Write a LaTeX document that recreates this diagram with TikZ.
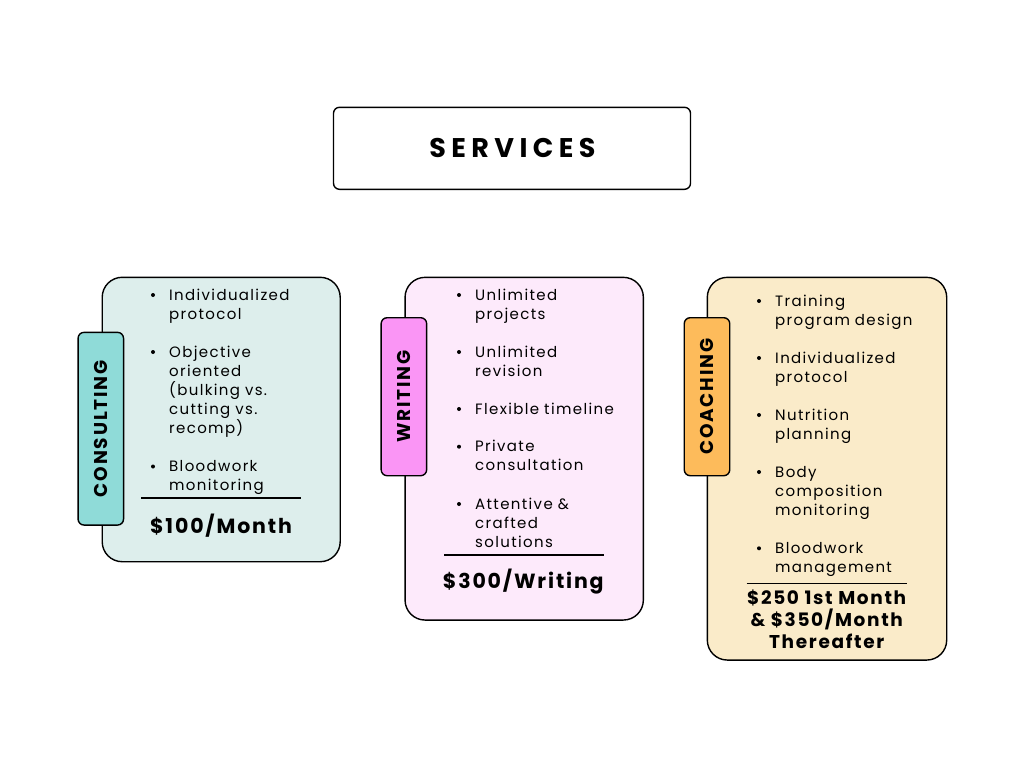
\documentclass[tikz,border=0pt]{standalone}
\usepackage{fontspec}
\setmainfont{Poppins}
\newfontfamily\itemfont[LetterSpace=9]{Poppins}
\newfontfamily\labelfont[LetterSpace=10]{Poppins}
\newfontfamily\titlefont[LetterSpace=20]{Poppins}
\newfontfamily\pricefont[LetterSpace=9]{Poppins}
\definecolor{consultFill}{HTML}{DDEEEC}
\definecolor{consultTab}{HTML}{8FDBD8}
\definecolor{writeFill}{HTML}{FDEAFB}
\definecolor{writeTab}{HTML}{FA95F5}
\definecolor{coachFill}{HTML}{FAEBC9}
\definecolor{coachTab}{HTML}{FDBB5B}
\begin{document}
\begin{tikzpicture}
[x=1pt,y=-1pt,
  cardDecorate/.style={draw=black,line width=1.4pt,rounded corners=20pt,inner sep=0pt},
  tabDecorate/.style={draw=black,line width=1.4pt,rounded corners=6pt,inner sep=0pt},
  labelDecorate/.style={rotate=90,inner sep=0pt,font=\labelfont\bfseries\fontsize{18.5}{20}\selectfont},
  itemDecorate/.style={anchor=base west,inner sep=0pt,text width=160pt,align=left,
    font=\itemfont\fontsize{15}{19}\selectfont},
  dotDecorate/.style={circle,fill=black,inner sep=0pt,minimum size=4pt},
  ruleDecorate/.style={line width=1.6pt},
  priceDecorate/.style={anchor=base,inner sep=0pt,align=center,
    font=\pricefont\bfseries\fontsize{20.5}{21.7}\selectfont}]
\useasboundingbox (0,0) rectangle (1024,768);
%% title
\node (titlebox) at (512,148.3) [draw=black,line width=1.4pt,rounded corners=6pt,
  minimum width=357pt,minimum height=82pt] {};
\node (title) at (512.5,157) [anchor=base,inner sep=0pt,
  font=\titlefont\bfseries\fontsize{27}{28}\selectfont] {SERVICES};
%% cards
\foreach \nodename/\x/\y/\w/\h/\colour in {
  consulting/221.2/419.5/238/284.4/consultFill,
  writing/524.2/448.7/238.3/342.7/writeFill,
  coaching/827/468.7/239.4/382.7/coachFill}
{
  \node (\nodename) at (\x,\y) [cardDecorate,fill=\colour,minimum width=\w pt,minimum height=\h pt] {};
}
%% tabs
\foreach \nodename/\x/\y/\h/\colour/\label in {
  consultingTab/100.8/428.7/192.7/consultTab/CONSULTING,
  writingTab/403.9/396.7/158/writeTab/WRITING,
  coachingTab/707/396.7/158/coachTab/COACHING}
{
  \node (\nodename) at (\x,\y) [tabDecorate,fill=\colour,minimum width=45.5pt,minimum height=\h pt] {};
  \node [labelDecorate] at (\nodename.center) {\label};
}
%% items
\foreach \x/\y/\txt in {
  169/300/{Individualized\\protocol},
  169/357/{Objective\\oriented\\(bulking vs.\\cutting vs.\\recomp)},
  169/471.5/{Bloodwork\\monitoring},
  475/300/{Unlimited\\projects},
  475/357/{Unlimited\\revision},
  475/414/{Flexible timeline},
  475/451.7/{Private\\consultation},
  475/509/{Attentive \&\\crafted\\solutions},
  775/306/{Training\\program design},
  775/363/{Individualized\\protocol},
  775/420/{Nutrition\\planning},
  775/477/{Body\\composition\\monitoring},
  775/553.3/{Bloodwork\\management}}
{
  \node [dotDecorate] at (\x-16,\y-5) {};
  \node [itemDecorate] at (\x,\y) {\txt};
}
%% rules
\foreach \rulename/\xa/\xb/\y in {
  consultingRule/141/300.7/497.7, writingRule/444/604/555, coachingRule/746.7/906.7/583.3}
{
  \coordinate (\rulename A) at (\xa,\y);
  \coordinate (\rulename B) at (\xb,\y);
  \draw [ruleDecorate] (\rulename A) -- (\rulename B);
}
%% prices
\node (consultingPrice) at (221,533) [priceDecorate] {\$100/Month};
\node (writingPrice) at (523.3,588.3) [priceDecorate] {\$300/Writing};
\node (coachingPrice) at (826.7,648.3) [priceDecorate,
  font=\pricefont\bfseries\fontsize{18.5}{21.7}\selectfont] {\$250 1st Month\\\& \$350/Month\\Thereafter};
\end{tikzpicture}
\end{document}
